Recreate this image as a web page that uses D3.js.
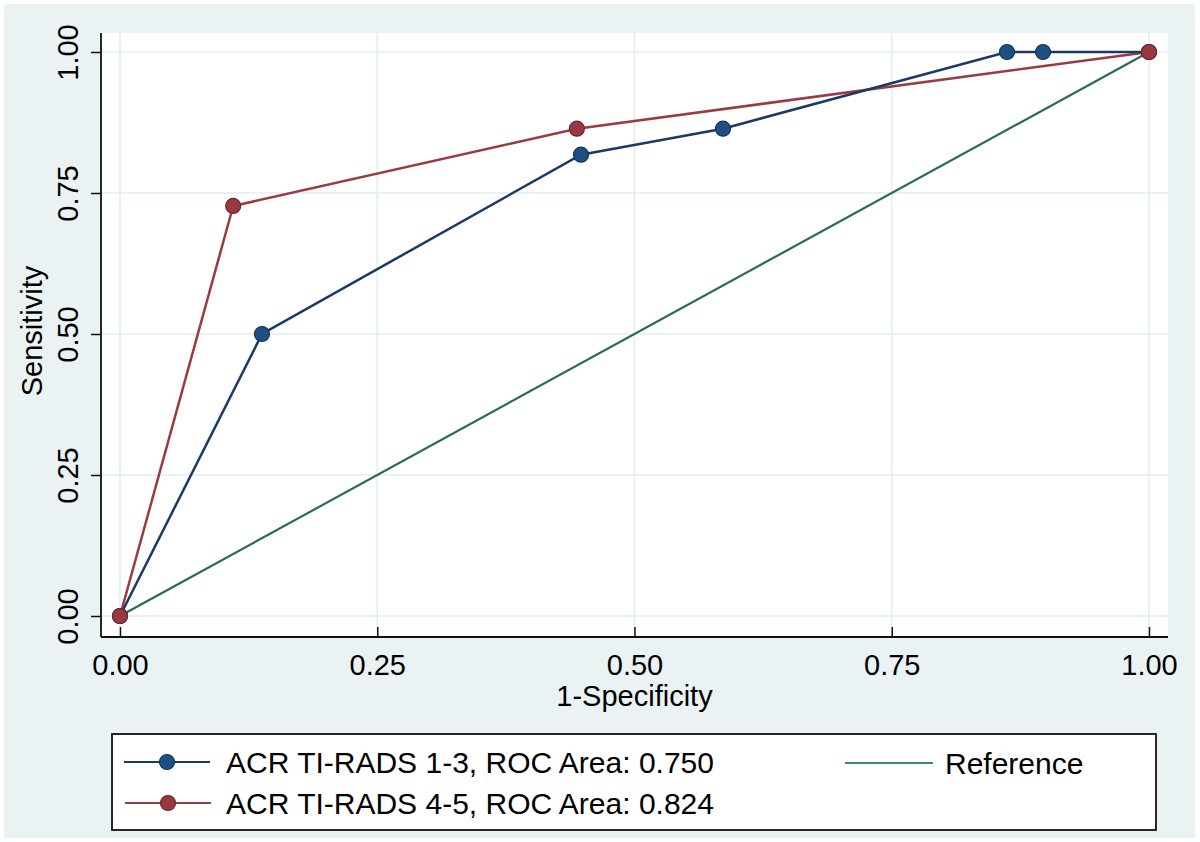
<!DOCTYPE html>
<html><head><meta charset="utf-8">
<script src="https://cdn.jsdelivr.net/npm/d3@7"></script>
<style>body{margin:0;background:#fff}svg{display:block}text{font-family:"Liberation Sans",Arial,sans-serif;fill:#000}</style>
</head><body>
<script>
const xTicks = [0, 0.25, 0.5, 0.75, 1];
const yTicks = [0, 0.25, 0.5, 0.75, 1];
const tickLabels = ["0.00", "0.25", "0.50", "0.75", "1.00"];
const series13X = [0, 0.138, 0.448, 0.586, 0.862, 0.897, 1];
const series13Y = [0, 0.5, 0.818, 0.864, 1, 1, 1];
const series45X = [0, 0.110, 0.444, 1];
const series45Y = [0, 0.727, 0.864, 1];
const refX = [0, 1];
const refY = [0, 1];
const legendLabels = ["ACR TI-RADS 1-3, ROC Area: 0.750", "ACR TI-RADS 4-5, ROC Area: 0.824", "Reference"];
const xTitle = "1-Specificity", yTitle = "Sensitivity";

const W = 1200, H = 842;
const FS = 29, LFS = 30;
const svg = d3.select("body").append("svg").attr("width", W).attr("height", H);
svg.append("rect").attr("x",4).attr("y",4).attr("width",1191).attr("height",834).attr("fill","#eaf2f3");
const region = {l:101, r:1168, t:33, b:637};
svg.append("rect").attr("x",region.l).attr("y",region.t).attr("width",region.r-region.l).attr("height",region.b-region.t).attr("fill","#fff");

const x = d3.scaleLinear().domain([0,1]).range([120,1149]);
const y = d3.scaleLinear().domain([0,1]).range([616,52]);

const grid = svg.append("g");
grid.selectAll(".gx").data(xTicks).join("line").attr("x1",d=>x(d)).attr("x2",d=>x(d)).attr("y1",region.t).attr("y2",region.b).attr("stroke","#e2ecef").attr("stroke-width",1.5);
grid.selectAll(".gy").data(yTicks).join("line").attr("y1",d=>y(d)).attr("y2",d=>y(d)).attr("x1",region.l).attr("x2",region.r).attr("stroke","#e2ecef").attr("stroke-width",1.5);

// axes
const xAxis = d3.axisBottom(x).tickValues(xTicks).tickFormat((d,i)=>tickLabels[i]).tickSize(10).tickSizeOuter(0);
const gx = svg.append("g").attr("transform",`translate(0,${region.b})`).call(xAxis);
gx.select(".domain").attr("d",`M${region.l},0H${region.r}`).attr("stroke","#111").attr("stroke-width",1.8);
gx.selectAll(".tick line").attr("stroke","#111").attr("stroke-width",1.5).attr("y1",-10).attr("y2",0);
gx.selectAll(".tick text").attr("font-size",FS).attr("y",38).attr("dy",0).style("font-family","'Liberation Sans',Arial,sans-serif");

const yAxis = d3.axisLeft(y).tickValues(yTicks).tickFormat((d,i)=>tickLabels[i]).tickSize(10).tickSizeOuter(0);
const gy = svg.append("g").attr("transform",`translate(${region.l},0)`).call(yAxis);
gy.select(".domain").attr("d",`M0,${region.t}V${region.b}`).attr("stroke","#111").attr("stroke-width",1.8);
gy.selectAll(".tick line").attr("stroke","#111").attr("stroke-width",1.5);
gy.selectAll(".tick text").attr("font-size",FS).attr("x",0).attr("dy",0).attr("text-anchor","middle")
  .attr("transform","translate(-23,0) rotate(-90)").style("font-family","'Liberation Sans',Arial,sans-serif");

svg.append("text").attr("x",x(0.5)).attr("y",706).attr("text-anchor","middle").attr("font-size",FS).text(xTitle);
svg.append("text").attr("transform",`translate(42,${y(0.5)-3}) rotate(-90)`).attr("text-anchor","middle").attr("font-size",FS).text(yTitle);

const line = d3.line().x(d=>x(d[0])).y(d=>y(d[1]));
const refPts = refX.map((v,i)=>[v,refY[i]]);
const s13 = series13X.map((v,i)=>[v,series13Y[i]]);
const s45 = series45X.map((v,i)=>[v,series45Y[i]]);
const green = "#2a6b55", blue = "#1a3a66", red = "#9a3a42";
svg.append("path").datum(refPts).attr("d",line).attr("fill","none").attr("stroke",green).attr("stroke-width",2.2);
svg.append("path").datum(s45).attr("d",line).attr("fill","none").attr("stroke",red).attr("stroke-width",2.5);
svg.append("path").datum(s13).attr("d",line).attr("fill","none").attr("stroke",blue).attr("stroke-width",2.5);
svg.append("g").selectAll("circle").data(s13).join("circle").attr("cx",d=>x(d[0])).attr("cy",d=>y(d[1])).attr("r",7.5).attr("fill","#1f4f80").attr("stroke","#15365a").attr("stroke-width",1.2);
svg.append("g").selectAll("circle").data(s45).join("circle").attr("cx",d=>x(d[0])).attr("cy",d=>y(d[1])).attr("r",7.5).attr("fill","#993840").attr("stroke","#6e2630").attr("stroke-width",1.2);

// legend
const lg = svg.append("g");
lg.append("rect").attr("x",112).attr("y",734).attr("width",1044).attr("height",96).attr("fill","#fff").attr("stroke","#111").attr("stroke-width",1.8);
const rows = [{y:762,c:blue,f:"#1f4f80",s:"#15365a",t:legendLabels[0],x0:124,x1:210,tx:226,m:true},
              {y:803,c:red,f:"#993840",s:"#6e2630",t:legendLabels[1],x0:125,x1:211,tx:226,m:true},
              {y:763,c:"#3a8a7a",t:legendLabels[2],x0:845,x1:933,tx:945,m:false}];
rows.forEach(r=>{
  lg.append("line").attr("x1",r.x0).attr("x2",r.x1).attr("y1",r.y).attr("y2",r.y).attr("stroke",r.c).attr("stroke-width",2.2);
  if(r.m) lg.append("circle").attr("cx",(r.x0+r.x1)/2).attr("cy",r.y).attr("r",7.5).attr("fill",r.f).attr("stroke",r.s).attr("stroke-width",1.2);
  lg.append("text").attr("x",r.tx).attr("y",r.y+11).attr("font-size",LFS).text(r.t);
});
</script>
</body></html>
